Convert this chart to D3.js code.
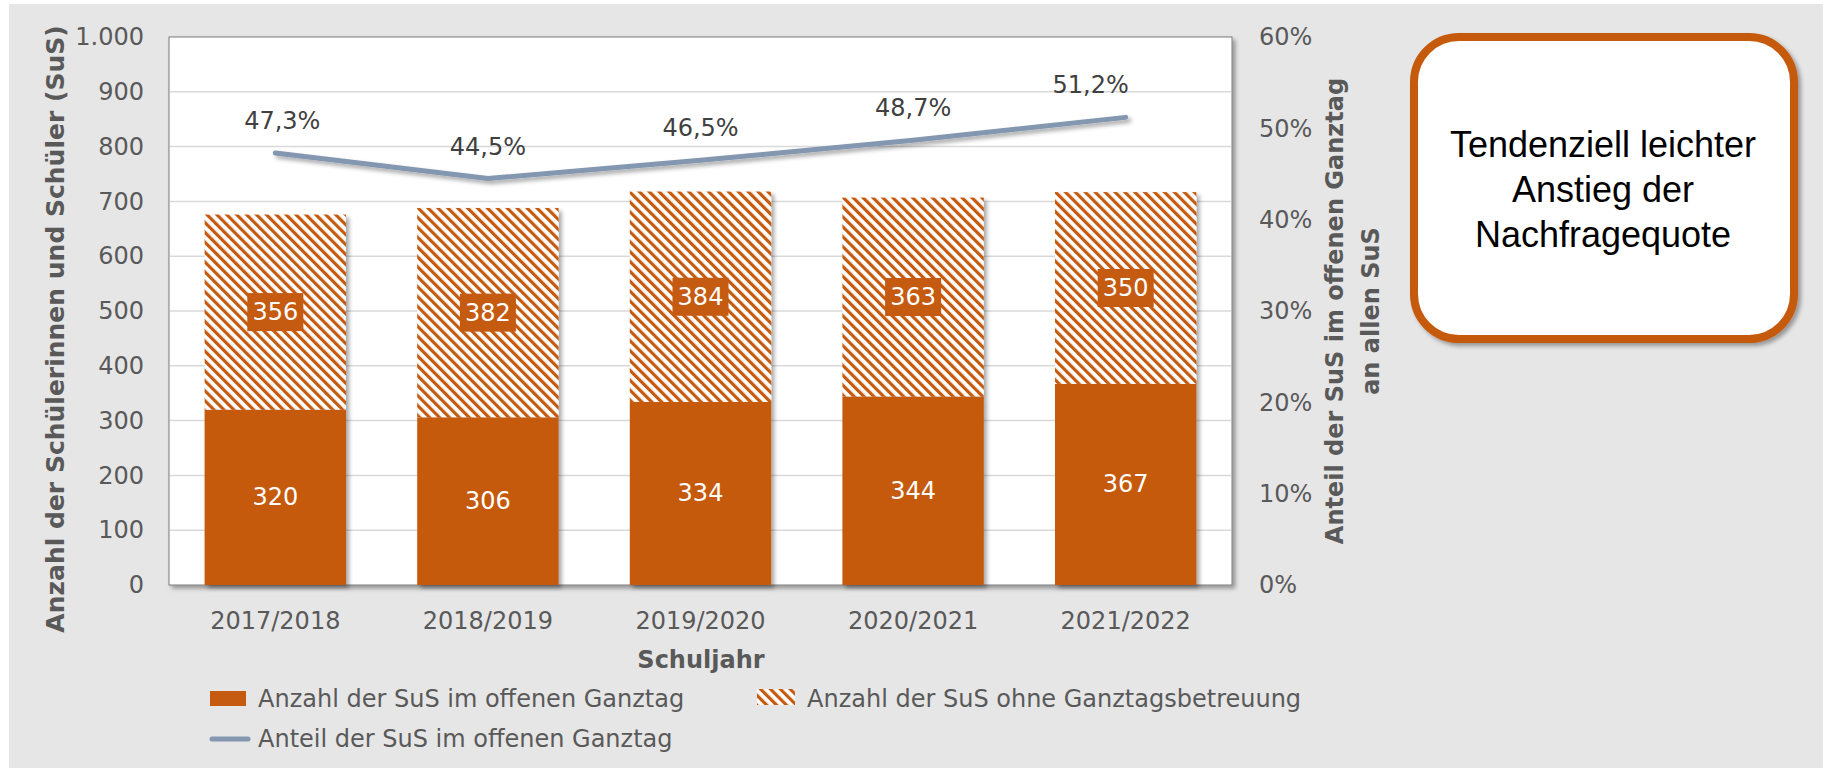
<!DOCTYPE html>
<html>
<head>
<meta charset="utf-8">
<script src="https://cdn.jsdelivr.net/npm/d3@7"></script>
<style>
  html, body { margin: 0; padding: 0; background: #ffffff; }
  svg { display: block; font-family: "DejaVu Sans", Verdana, sans-serif; }
</style>
</head>
<body>
<div id="graphic"></div>
<script>
// Data
var years = ["2017/2018", "2018/2019", "2019/2020", "2020/2021", "2021/2022"];
var offenerGanztag = [320, 306, 334, 344, 367];
var ohneGanztag = [356, 382, 384, 363, 350];
var anteil = [0.473, 0.445, 0.465, 0.487, 0.512];
var leftTicks = [0, 100, 200, 300, 400, 500, 600, 700, 800, 900, 1000];
var rightTicks = [0, 0.1, 0.2, 0.3, 0.4, 0.5, 0.6];
var legendLabels = ["Anzahl der SuS im offenen Ganztag", "Anzahl der SuS ohne Ganztagsbetreuung", "Anteil der SuS im offenen Ganztag"];
var noteLines = ["Tendenziell leichter", "Anstieg der", "Nachfragequote"];

(function() {
  var W = 1823, H = 774;
  var orange = "#c55a11", lineBlue = "#8497b0", grey = "#595959";

  var de = d3.formatLocale({ decimal: ",", thousands: ".", grouping: [3], currency: ["", " €"] });
  var fmtNum = de.format(",d"), fmtPct = de.format(".0%"), fmtPct1 = de.format(".1%");

  var plot = { left: 169, top: 37, right: 1232, bottom: 585 };

  var svg = d3.select("#graphic").append("svg")
      .attr("width", W)
      .attr("height", H);

  var defs = svg.append("defs");

  var shadow = defs.append("filter").attr("id", "shadow")
      .attr("x", "-10%").attr("y", "-10%").attr("width", "130%").attr("height", "130%");
  shadow.append("feDropShadow")
      .attr("dx", 3).attr("dy", 3).attr("stdDeviation", 2)
      .attr("flood-color", "#000").attr("flood-opacity", 0.35);

  var hatch = defs.append("pattern").attr("id", "hatch")
      .attr("patternUnits", "userSpaceOnUse")
      .attr("width", 7).attr("height", 7)
      .attr("patternTransform", "rotate(-45)");
  hatch.append("rect").attr("width", 7).attr("height", 7).attr("fill", "#fff");
  hatch.append("rect").attr("width", 3.2).attr("height", 7).attr("fill", orange);

  // Background panel
  svg.append("rect")
      .attr("x", 9).attr("y", 4)
      .attr("width", W - 9).attr("height", 764)
      .attr("fill", "#e6e6e6");

  // Scales
  var x = d3.scaleBand().domain(years).range([plot.left, plot.right]).paddingInner(0.335).paddingOuter(0.1675);
  var yLeft = d3.scaleLinear().domain([0, 1000]).range([plot.bottom, plot.top]);
  var yRight = d3.scaleLinear().domain([0, 0.6]).range([plot.bottom, plot.top]);

  // Plot area
  svg.append("rect")
      .attr("x", plot.left).attr("y", plot.top)
      .attr("width", plot.right - plot.left).attr("height", plot.bottom - plot.top)
      .attr("fill", "#fff")
      .attr("stroke", "#7a7a7a")
      .attr("stroke-width", 1)
      .attr("filter", "url(#shadow)");

  // Gridlines
  svg.append("g").attr("class", "grid")
      .selectAll("line").data(leftTicks.slice(1, -1))
    .enter().append("line")
      .attr("x1", plot.left + 1).attr("x2", plot.right - 1)
      .attr("y1", function(d) { return yLeft(d); })
      .attr("y2", function(d) { return yLeft(d); })
      .attr("stroke", "#d9d9d9").attr("stroke-width", 1.5);

  // Axes
  var leftAxis = d3.axisLeft(yLeft).tickValues(leftTicks).tickFormat(fmtNum).tickSize(0).tickPadding(25);
  var rightAxis = d3.axisRight(yRight).tickValues(rightTicks).tickFormat(fmtPct).tickSize(0).tickPadding(27);
  var bottomAxis = d3.axisBottom(x).tickSize(0).tickPadding(27);

  function styleAxis(g) {
    g.select(".domain").remove();
    g.selectAll("text").attr("fill", grey).style("font-size", "24px").style("font-family", "DejaVu Sans");
  }

  svg.append("g").attr("transform", "translate(" + plot.left + ",0)").call(leftAxis).call(styleAxis);
  svg.append("g").attr("transform", "translate(" + plot.right + ",0)").call(rightAxis).call(styleAxis);
  svg.append("g").attr("transform", "translate(0," + plot.bottom + ")").call(bottomAxis).call(styleAxis);

  // Stacked bars
  var bars = svg.append("g").attr("class", "bars")
      .selectAll("g.bar-group")
      .data(years)
    .enter().append("g")
      .attr("class", "bar-group")
      .attr("filter", "url(#shadow)");

  bars.append("rect")
      .attr("x", function(d) { return x(d); })
      .attr("width", x.bandwidth())
      .attr("y", function(d, i) { return yLeft(offenerGanztag[i]); })
      .attr("height", function(d, i) { return yLeft(0) - yLeft(offenerGanztag[i]); })
      .attr("fill", orange);

  bars.append("rect")
      .attr("x", function(d) { return x(d); })
      .attr("width", x.bandwidth())
      .attr("y", function(d, i) { return yLeft(offenerGanztag[i] + ohneGanztag[i]); })
      .attr("height", function(d, i) { return yLeft(offenerGanztag[i]) - yLeft(offenerGanztag[i] + ohneGanztag[i]); })
      .attr("fill", "url(#hatch)");

  // Bar labels
  var labels = svg.append("g").attr("class", "bar-labels");

  labels.selectAll("text.low").data(years)
    .enter().append("text")
      .attr("class", "low")
      .attr("x", function(d) { return x(d) + x.bandwidth() / 2; })
      .attr("y", function(d, i) { return yLeft(offenerGanztag[i] / 2); })
      .attr("text-anchor", "middle")
      .attr("dominant-baseline", "central")
      .attr("fill", "#fff")
      .style("font-size", "24px")
      .text(function(d, i) { return offenerGanztag[i]; });

  var high = labels.selectAll("g.high").data(years)
    .enter().append("g").attr("class", "high")
      .attr("transform", function(d, i) {
        return "translate(" + (x(d) + x.bandwidth() / 2) + "," + yLeft(offenerGanztag[i] + ohneGanztag[i] / 2) + ")";
      });
  high.append("rect")
      .attr("x", -28).attr("y", -19).attr("width", 56).attr("height", 38)
      .attr("fill", orange);
  high.append("text")
      .attr("text-anchor", "middle")
      .attr("dominant-baseline", "central")
      .attr("fill", "#fff")
      .style("font-size", "24px")
      .text(function(d, i) { return ohneGanztag[i]; });

  // Line: Anteil
  var line = d3.line()
      .x(function(d, i) { return x(years[i]) + x.bandwidth() / 2; })
      .y(function(d) { return yRight(d); });

  svg.append("path")
      .datum(anteil)
      .attr("d", line)
      .attr("fill", "none")
      .attr("stroke", lineBlue)
      .attr("stroke-width", 5)
      .attr("stroke-linecap", "round")
      .attr("stroke-linejoin", "round")
      .attr("filter", "url(#shadow)");

  // Manual label nudges like in the original
  var labelDx = [7, 0, 0, 0, -35];
  svg.append("g").selectAll("text").data(anteil)
    .enter().append("text")
      .attr("x", function(d, i) { return x(years[i]) + x.bandwidth() / 2 + labelDx[i]; })
      .attr("y", function(d) { return yRight(d) - 32; })
      .attr("text-anchor", "middle")
      .attr("dominant-baseline", "central")
      .attr("fill", "#404040")
      .style("font-size", "24px")
      .text(function(d) { return fmtPct1(d); });

  // Axis titles
  svg.append("text")
      .attr("transform", "translate(55," + ((plot.top + plot.bottom) / 2 + 18) + ") rotate(-90)")
      .attr("text-anchor", "middle")
      .attr("dominant-baseline", "central")
      .attr("fill", grey)
      .style("font-size", "25px").style("font-weight", "bold")
      .text("Anzahl der Schülerinnen und Schüler (SuS)");

  var rt = svg.append("text")
      .attr("transform", "translate(1335," + ((plot.top + plot.bottom) / 2) + ") rotate(-90)")
      .attr("text-anchor", "middle")
      .attr("fill", grey)
      .style("font-size", "24px").style("font-weight", "bold");
  rt.append("tspan").attr("x", 0).attr("y", 0).attr("dominant-baseline", "central").text("Anteil der SuS im offenen Ganztag");
  rt.append("tspan").attr("x", 0).attr("y", 36).attr("dominant-baseline", "central").text("an allen SuS");

  svg.append("text")
      .attr("x", 701).attr("y", 660)
      .attr("text-anchor", "middle")
      .attr("dominant-baseline", "central")
      .attr("fill", grey)
      .style("font-size", "24px").style("font-weight", "bold")
      .text("Schuljahr");

  // Legend
  var legend = svg.append("g").attr("class", "legend");
  legend.append("rect").attr("x", 210).attr("y", 691).attr("width", 36).attr("height", 15).attr("fill", orange);
  legend.append("rect").attr("x", 757).attr("y", 689).attr("width", 38).attr("height", 16).attr("fill", "url(#hatch)");
  legend.append("line").attr("x1", 212).attr("x2", 248).attr("y1", 739).attr("y2", 739)
      .attr("stroke", lineBlue).attr("stroke-width", 5).attr("stroke-linecap", "round");

  var legendPos = [[258, 699], [807, 699], [258, 739]];
  legend.selectAll("text").data(legendLabels)
    .enter().append("text")
      .attr("x", function(d, i) { return legendPos[i][0]; })
      .attr("y", function(d, i) { return legendPos[i][1]; })
      .attr("dominant-baseline", "central")
      .attr("fill", grey)
      .style("font-size", "24px")
      .text(function(d) { return d; });

  // Note box
  svg.append("rect")
      .attr("x", 1414).attr("y", 37).attr("width", 380).attr("height", 302)
      .attr("rx", 45).attr("ry", 45)
      .attr("fill", "#fff")
      .attr("stroke", orange).attr("stroke-width", 8)
      .attr("filter", "url(#shadow)");

  svg.append("g").selectAll("text").data(noteLines)
    .enter().append("text")
      .attr("x", 1603)
      .attr("y", function(d, i) { return 157 + i * 45; })
      .attr("text-anchor", "middle")
      .attr("fill", "#000")
      .style("font-family", "'Liberation Sans', Arial, sans-serif")
      .style("font-size", "36px")
      .text(function(d) { return d; });
})();
</script>
</body>
</html>
